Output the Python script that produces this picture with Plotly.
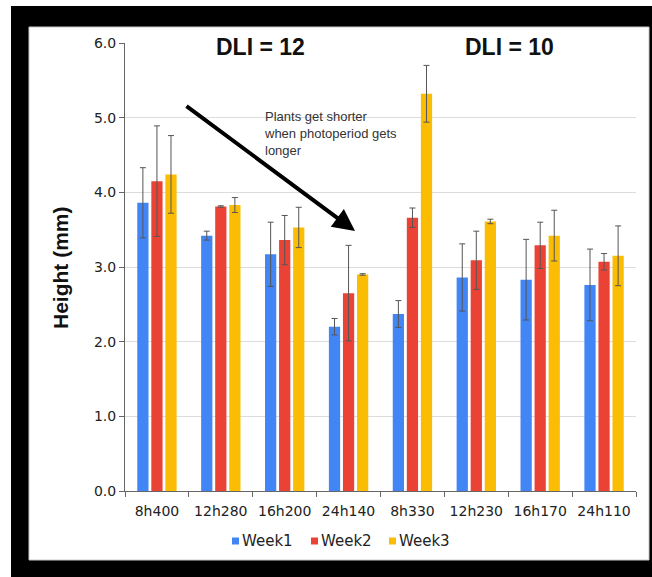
import plotly.graph_objects as go

categories = ["8h400", "12h280", "16h200", "24h140", "8h330", "12h230", "16h170", "24h110"]
week1 = [3.86, 3.42, 3.17, 2.20, 2.37, 2.86, 2.83, 2.76]
week2 = [4.15, 3.81, 3.36, 2.65, 3.66, 3.09, 3.29, 3.07]
week3 = [4.24, 3.83, 3.53, 2.90, 5.32, 3.61, 3.42, 3.15]
err1 = [0.47, 0.06, 0.43, 0.11, 0.18, 0.45, 0.54, 0.48]
err2 = [0.74, 0.01, 0.33, 0.64, 0.13, 0.39, 0.31, 0.11]
err3 = [0.52, 0.10, 0.27, 0.01, 0.38, 0.03, 0.34, 0.40]
series_names = ["Week1", "Week2", "Week3"]
colors = ["#4285F4", "#EA4335", "#FBBC04"]

W, H = 652, 577
L, R, T, B = 125, 16, 43, 86
pw, ph = W - L - R, H - T - B

def px_x(x):
    return (x - L) / pw

def px_y(y):
    return (H - B - y) / ph

fig = go.Figure()
for name, vals, errs, col in zip(series_names, [week1, week2, week3], [err1, err2, err3], colors):
    fig.add_trace(go.Bar(
        x=categories, y=vals, name=name, marker_color=col,
        marker_line_width=0,
        error_y=dict(type="data", array=errs, visible=True, color="#555555", thickness=1, width=3),
    ))

TICKFONT = dict(family="DejaVu Sans, Verdana, sans-serif", size=14, color="#222222")

fig.update_layout(
    width=W, height=H,
    margin=dict(l=L, r=R, t=T, b=B),
    paper_bgcolor="white",
    plot_bgcolor="white",
    barmode="group",
    bargap=0.34,
    bargroupgap=0.2,
    font=dict(family="Liberation Sans, Arial, sans-serif", color="#333333", size=13),
    showlegend=False,
    xaxis=dict(showline=True, linecolor="#666666", linewidth=1, ticks="outside", tickson="boundaries",
               ticklen=5, tickcolor="#666666", tickfont=TICKFONT, showgrid=False, ticklabelstandoff=7),
    yaxis=dict(range=[0, 6], dtick=1, tickformat=".1f", showline=True, linecolor="#666666", linewidth=1,
               ticks="outside", ticklen=5, tickcolor="#666666", gridcolor="#dcdcdc", gridwidth=1,
               tickfont=TICKFONT, zeroline=False),
)

# black frame and white panel
fig.add_shape(type="rect", xref="paper", yref="paper", x0=px_x(11), x1=px_x(660), y0=px_y(585), y1=px_y(6),
              fillcolor="black", line_width=0, layer="below")
fig.add_shape(type="rect", xref="paper", yref="paper", x0=px_x(29), x1=px_x(649), y0=px_y(560), y1=px_y(27),
              fillcolor="white", line=dict(color="#c8c8c8", width=1), layer="below")

# gaps in the top gridline behind the headers
for gx0, gx1 in [(207, 337), (453, 587)]:
    fig.add_shape(type="rect", xref="paper", yref="paper", x0=px_x(gx0), x1=px_x(gx1), y0=px_y(46), y1=px_y(40),
                  fillcolor="white", line_width=0, layer="above")

# y-axis title
fig.add_annotation(text="<b>Height (mm)</b>", xref="paper", yref="paper", x=px_x(60), y=px_y(268),
                   xanchor="center", yanchor="middle",
                   textangle=-90, showarrow=False, font=dict(size=21, color="#111111"))

# DLI headers
fig.add_annotation(text="<b>DLI = 12</b>", xref="paper", yref="paper", x=px_x(260), y=px_y(47),
                   showarrow=False, font=dict(size=23, color="#111111"),
                   xanchor="center", yanchor="middle")
fig.add_annotation(text="<b>DLI = 10</b>", xref="paper", yref="paper", x=px_x(509), y=px_y(47),
                   showarrow=False, font=dict(size=23, color="#111111"),
                   xanchor="center", yanchor="middle")

# arrow
fig.add_annotation(x=px_x(355), y=px_y(231), ax=185 - 355, ay=105 - 231, xref="paper", yref="paper",
                   axref="pixel", ayref="pixel", showarrow=True, arrowhead=2, arrowsize=1.1,
                   arrowwidth=4, arrowcolor="black", text="")

fig.add_annotation(text="Plants get shorter<br>when photoperiod gets<br>longer", xref="paper", yref="paper",
                   x=px_x(262), y=px_y(107), xanchor="left", yanchor="top", align="left", showarrow=False,
                   font=dict(size=13, color="#333333"))

# custom legend
leg_sq_x = [232, 311, 389]
for name, col, sx in zip(series_names, colors, leg_sq_x):
    fig.add_shape(type="rect", xref="paper", yref="paper", x0=px_x(sx), x1=px_x(sx + 7),
                  y0=px_y(544.5), y1=px_y(537.5), fillcolor=col, line_width=0)
    fig.add_annotation(text=name, xref="paper", yref="paper", x=px_x(sx + 8), y=px_y(541),
                       xanchor="left", yanchor="middle", showarrow=False,
                       font=dict(family="DejaVu Sans, Verdana, sans-serif", size=15, color="#222222"))

fig.write_html("out.html", config={"displayModeBar": False},
               post_script="document.body.style.margin='0px';")
